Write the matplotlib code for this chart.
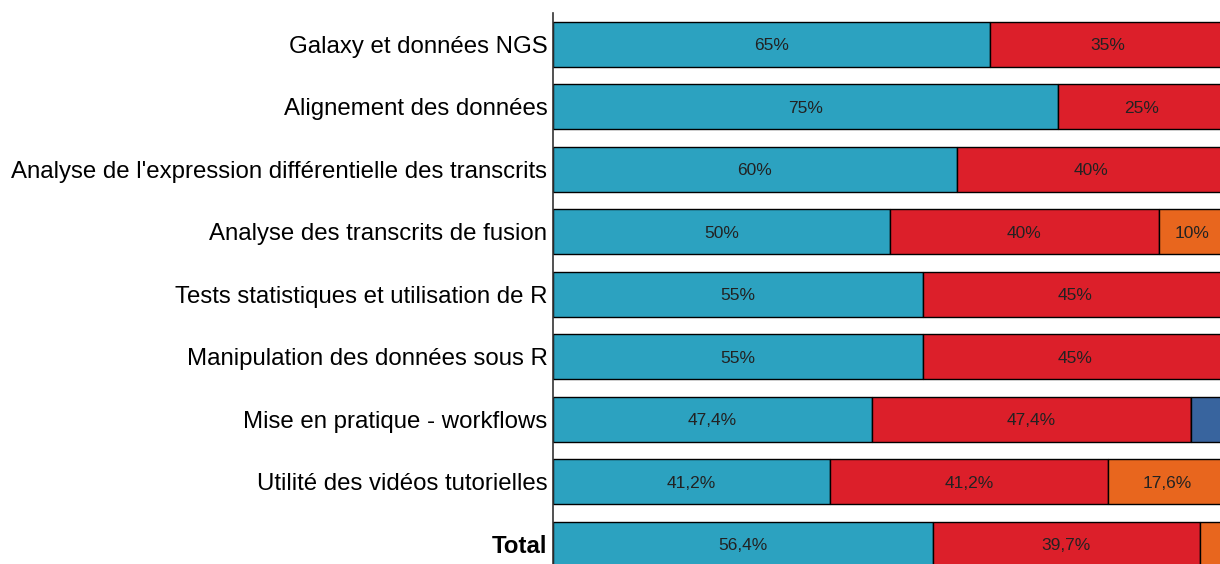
import numpy as np
from matplotlib import pyplot as plt

plt.rcParams['font.family'] = ['Liberation Sans', 'DejaVu Sans']

categories = [
    "Galaxy et données NGS",
    "Alignement des données",
    "Analyse de l'expression différentielle des transcrits",
    "Analyse des transcrits de fusion",
    "Tests statistiques et utilisation de R",
    "Manipulation des données sous R",
    "Mise en pratique - workflows",
    "Utilité des vidéos tutorielles",
    "Total",
]
s1 = [65, 75, 60, 50, 55, 55, 47.4, 41.2, 56.4]
s2 = [35, 25, 40, 40, 45, 45, 47.4, 41.2, 39.7]
s3 = [0, 0, 0, 10, 0, 0, 0, 17.6, 3.9]
s4 = [0, 0, 0, 0, 0, 0, 5.2, 0, 0]

colors = ['#2ca2c0', '#dc1f2a', '#e8661e', '#38649e']


def fmt(v):
    s = ('%.1f' % v).rstrip('0').rstrip('.')
    return s.replace('.', ',') + '%'


fig = plt.figure(figsize=(12.2, 5.64), dpi=100)
ax = fig.add_axes([553 / 1220, 0.977 - 1.031, 673 / 1220, 1.031])

y = np.arange(len(categories))
left = np.zeros(len(categories))
for vals, c in zip([s1, s2, s3, s4], colors):
    vals = np.array(vals, dtype=float)
    ax.barh(y, vals, left=left, height=0.72, color=c,
            edgecolor='black', linewidth=1.0)
    for yi, l, v in zip(y, left, vals):
        # small end segments are left without a label
        if v >= 6:
            ax.text(l + v / 2, yi, fmt(v), ha='center', va='center_baseline',
                    fontsize=12.5, color='#222222')
    left += vals

ax.set_xlim(0, 100)
ax.set_ylim(8.8, -0.504)
ax.set_yticks(y)
ax.set_yticklabels(categories, fontsize=17.3, va='center_baseline')
ax.get_yticklabels()[-1].set_fontweight('bold')
ax.tick_params(axis='y', length=0, pad=4)
ax.set_xticks([])
for s in ['top', 'right', 'bottom']:
    ax.spines[s].set_visible(False)
ax.spines['left'].set_linewidth(1.2)
ax.spines['left'].set_color('#333333')

fig.savefig('out.png', dpi=100)
